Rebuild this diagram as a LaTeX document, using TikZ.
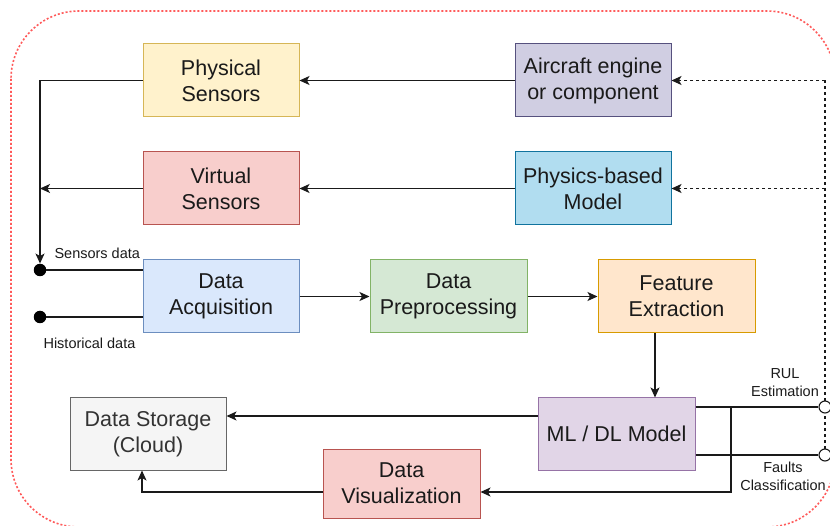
\documentclass[tikz,border=0pt]{standalone}
\usepackage{fontspec}
\setmainfont{Liberation Sans}
\usetikzlibrary{arrows.meta,calc,backgrounds}

% fills and strokes of the blocks
\definecolor{yelF}{HTML}{FFF2CC}\definecolor{yelS}{HTML}{D6B656}
\definecolor{purF}{HTML}{D0CEE2}\definecolor{purS}{HTML}{56517E}
\definecolor{redF}{HTML}{F8CECC}\definecolor{redS}{HTML}{B85450}
\definecolor{cyaF}{HTML}{B1DDF0}\definecolor{cyaS}{HTML}{10739E}
\definecolor{bluF}{HTML}{DAE8FC}\definecolor{bluS}{HTML}{6C8EBF}
\definecolor{grnF}{HTML}{D5E8D4}\definecolor{grnS}{HTML}{82B366}
\definecolor{orgF}{HTML}{FFE6CC}\definecolor{orgS}{HTML}{D79B00}
\definecolor{vioF}{HTML}{E1D5E7}\definecolor{vioS}{HTML}{9673A6}
\definecolor{gryF}{HTML}{F5F5F5}\definecolor{gryS}{HTML}{666666}
\definecolor{ink}{HTML}{1A1A1A}
\definecolor{frame}{HTML}{FF5A5A}

\begin{document}
\begin{tikzpicture}[x=1pt,y=-1pt,
  box/.style={draw, line width=1pt, minimum width=156pt, minimum height=73pt,
    inner sep=0pt, align=center, font=\fontsize{21.5}{26}\selectfont, text=ink},
  link/.style={line width=1.2pt, draw=ink},
  tip/.style={-{Stealth[length=10pt,width=9pt,inset=2.5pt]}},
  arr/.style={link, tip},
  dashlink/.style={link, dash pattern=on 3pt off 3pt},
  small/.style={font=\fontsize{14.5}{18}\selectfont, align=center, text=ink},
  dot/.style={circle, fill=black, inner sep=0pt, minimum size=12.5pt},
  port/.style={circle, draw=ink, fill=white, line width=1.1pt, inner sep=0pt, minimum size=12pt},
]
\useasboundingbox (0,0) rectangle (830,526);

% outer dotted frame
\begin{scope}
  \clip (0,0) rectangle (830,526);
  \draw[frame, line width=1.6pt, dash pattern=on 2pt off 2pt, rounded corners=68pt]
    (11,11) rectangle (835,527);
\end{scope}

% blocks
\node[box, fill=yelF, draw=yelS] (phys) at (221,80.5) {Physical\\Sensors};
\node[box, fill=purF, draw=purS] (engine) at (593,80.5) {Aircraft engine\\or component};
\node[box, fill=redF, draw=redS] (virt) at (221,188.5) {Virtual\\Sensors};
\node[box, fill=cyaF, draw=cyaS] (model) at (593,188.5) {Physics-based\\Model};
\node[box, fill=bluF, draw=bluS] (acq) at (221,296.5) {Data\\Acquisition};
\node[box, fill=grnF, draw=grnS, minimum width=157pt] (prep) at (448.5,296.5) {Data\\Preprocessing};
\node[box, fill=orgF, draw=orgS, minimum width=157pt] (feat) at (676.5,296.5) {Feature\\Extraction};
\node[box, fill=vioF, draw=vioS, minimum width=157pt, minimum height=72pt] (ml) at (616.5,434) {ML / DL Model};
\node[box, fill=gryF, draw=gryS, minimum height=72pt, text=black!80] (store) at (148,434) {Data Storage\\(Cloud)};
\node[box, fill=redF, draw=redS, minimum width=157pt, minimum height=69pt] (vis) at (401.5,483.5) {Data\\Visualization};

% input terminals
\node[dot] (sens) at (40,270) {};
\node[dot] (hist) at (40,317) {};
\node[small, anchor=west] (senslbl) at (51,253) {Sensors data};
\node[small, anchor=west] (histlbl) at (40,343) {Historical data};

% output terminals
\node[port] (rul) at (825,407) {};
\node[port] (fault) at (825,455) {};
\node[small] (rullbl) at (785,383) {RUL\\Estimation};
\node[small] (faultlbl) at (783,476.5) {Faults\\Classification};

% routing points
\coordinate (bus) at (40,188.5);
\coordinate (fb1) at (825,80.5);
\coordinate (fb2) at (825,188.5);
\coordinate (split) at (731,407);

% sensor paths
\draw[arr] (engine.west) -- (phys.east);
\draw[arr] (model.west) -- (virt.east);
\draw[arr] (phys.west) -- (40,80.5) -- (sens.north);
\draw[arr] (virt.west) -- (bus);
\draw[link] (sens) -- (sens -| acq.west);
\draw[link] (hist) -- (hist -| acq.west);

% processing chain
\draw[arr] (acq) -- (prep);
\draw[arr] (prep) -- (feat);
\draw[arr] ([xshift=-21.5pt]feat.south) -- ([xshift=-21.5pt]feat.south |- ml.north);
\draw[arr] ([yshift=18pt]ml.west) -- ([yshift=18pt]ml.west -| store.east);

% outputs
\draw[link] ([yshift=27pt]ml.east) -- (rul.west);
\draw[link] ([yshift=-21pt]ml.east) -- (fault.west);
\draw[arr] (split) -- (731,492) -- ([yshift=-8.5pt]vis.east);
\draw[arr] ([yshift=-8.5pt]vis.west) -- (142,492) -- ([xshift=-6pt]store.south);

% feedback to the physical side (behind the output ports)
\begin{pgfonlayer}{background}
  \draw[dashlink] (fault.center) -- (fb1);
\end{pgfonlayer}
\draw[dashlink, tip] (fb1) -- (engine.east);
\draw[dashlink, tip] (fb2) -- (model.east);
\end{tikzpicture}
\end{document}
